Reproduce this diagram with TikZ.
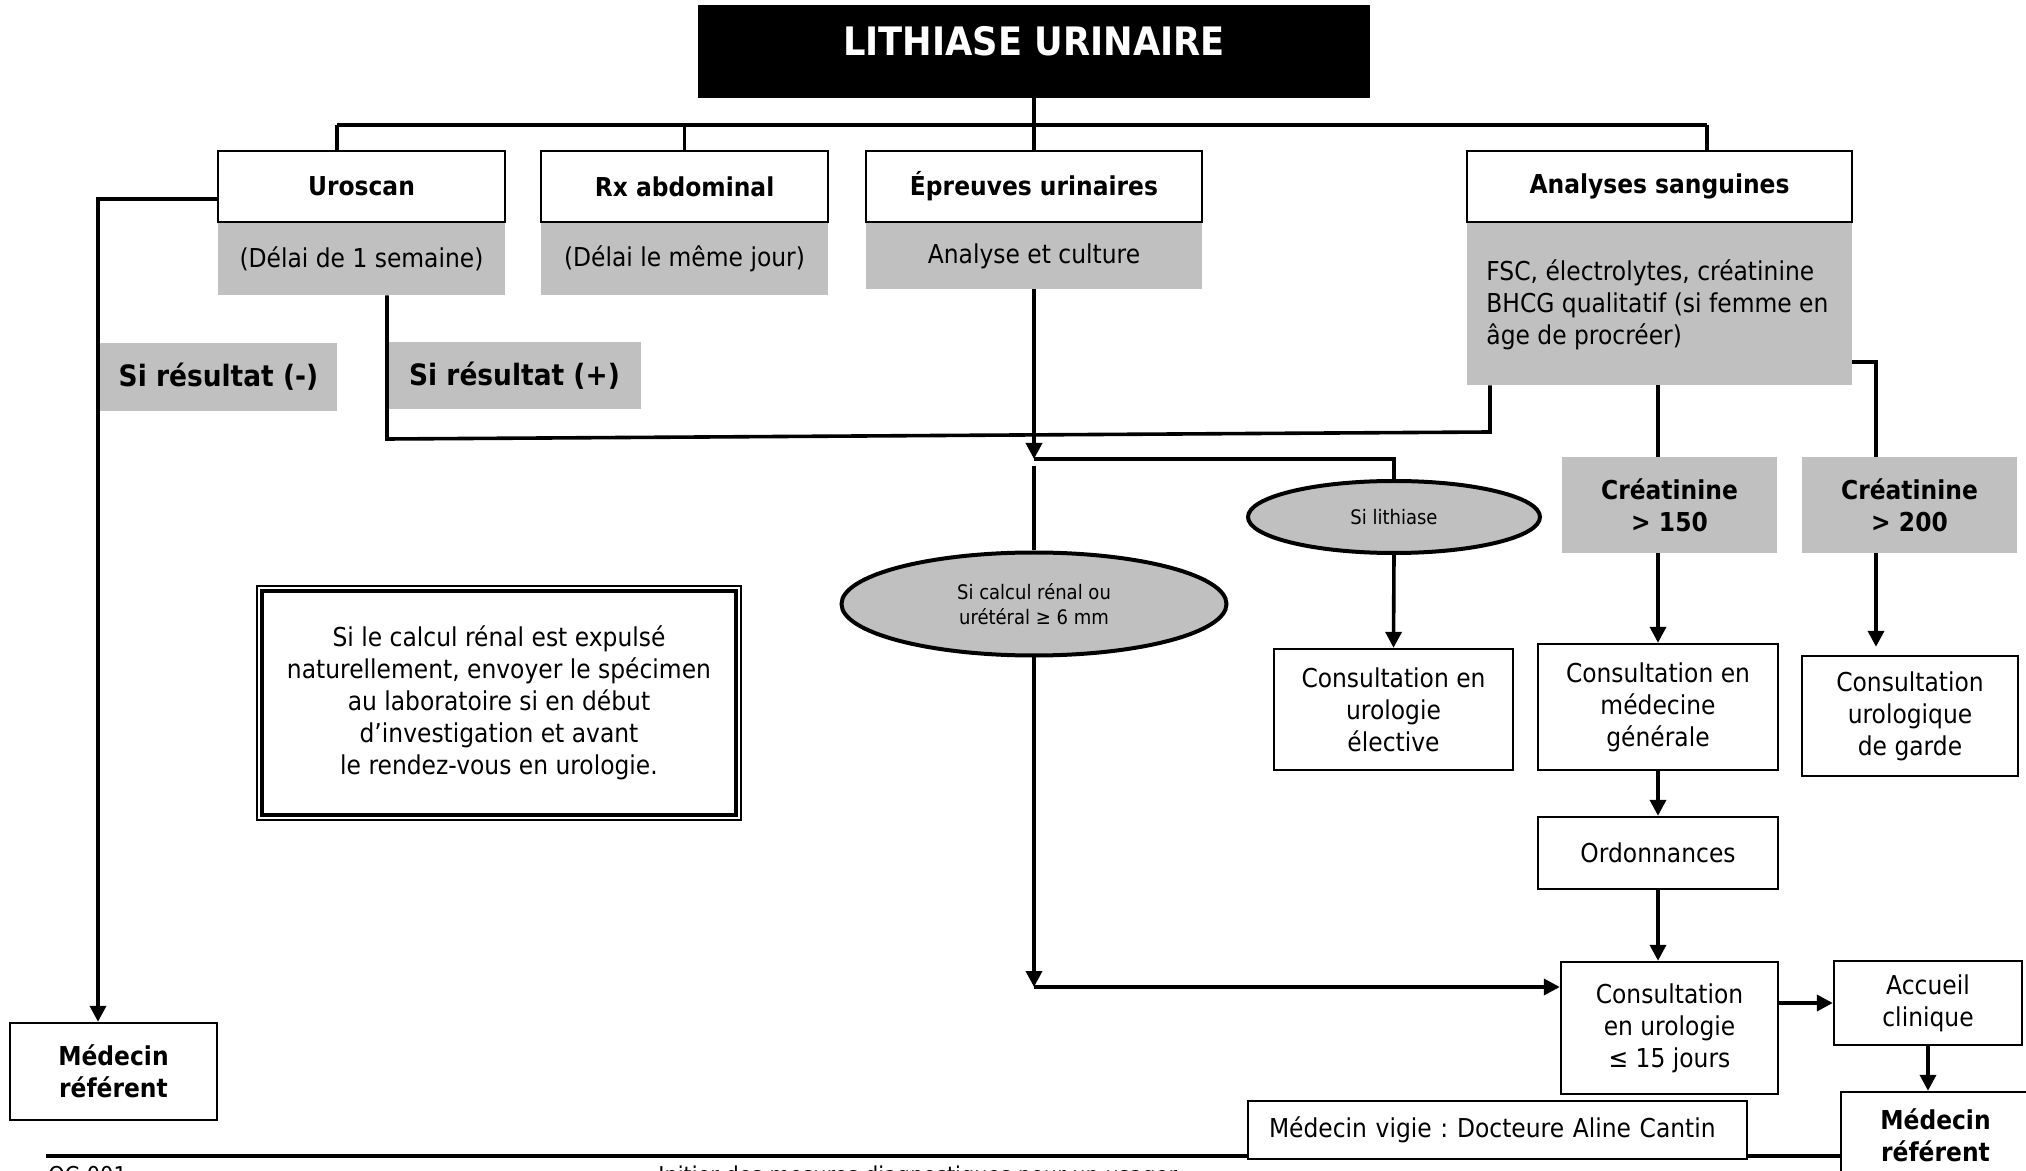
\documentclass[tikz,border=0pt]{standalone}
\usepackage{fontspec}
\setmainfont{DejaVu Sans}[FakeStretch=0.9]
\usetikzlibrary{arrows.meta,shapes.geometric,calc,backgrounds}
\definecolor{boxgrey}{RGB}{192,192,192}

\begin{document}
\frenchspacing
\begin{tikzpicture}[x=0.5pt,y=-0.5pt,
  txt/.style={font=\fontsize{13pt}{16pt}\selectfont},
  txtb/.style={font=\fontsize{13pt}{16pt}\selectfont\bfseries},
  wh/.style 2 args={minimum width=#1pt,minimum height=#2pt},
  framed/.style={draw,line width=1.2pt,fill=white,inner sep=0pt,align=center,txt},
  hdrbox/.style={framed,txtb},
  greybox/.style={fill=boxgrey,inner sep=0pt,align=center,txt},
  condbox/.style={fill=boxgrey,inner sep=0pt,align=center,txtb},
  condbig/.style={fill=boxgrey,inner sep=0pt,align=center,font=\fontsize{14.7pt}{17pt}\selectfont\bfseries},
  oval/.style={ellipse,draw,line width=2pt,fill=boxgrey,inner sep=0pt,align=center,font=\fontsize{10pt}{12.5pt}\selectfont},
  conn/.style={line width=1.8pt},
  arr/.style={conn,-{Triangle[length=8pt,width=8pt]}},
  foot/.style={anchor=base west,inner sep=0pt,font=\fontsize{11.6pt}{13pt}\selectfont},
]

% page
\begin{pgfonlayer}{background}
  \fill[white] (0,0) rectangle (2026,1171);
\end{pgfonlayer}
\path[use as bounding box] (0,0) rectangle (2026,1171);

% title
\node[fill=black, wh={336}{46.5}, inner sep=0pt] (title) at (1034,51.5) {};
\node[text=white, font=\fontsize{19.6pt}{22pt}\selectfont\bfseries, inner sep=0pt] (titletxt) at (1034,41) {LITHIASE URINAIRE};

% examinations
\node[greybox, wh={143.5}{36.5}] (uroG) at (361.5,258.5) {(Délai de 1 semaine)};
\node[hdrbox, wh={143.5}{35.5}] (uroH) at (361.5,186.5) {Uroscan};
\node[greybox, wh={143.5}{36.5}] (rxG) at (684.5,258.5) {(Délai le même jour)};
\node[hdrbox, wh={143.5}{35.5}] (rxH) at (684.5,186.5) {Rx abdominal};
\node[greybox, wh={168}{33}] (epG) at (1034,256) {Analyse et culture};
\node[hdrbox, wh={168}{35.5}] (epH) at (1034,186.5) {Épreuves urinaires};
\node[greybox, wh={192.5}{81.5}] (anG) at (1659.5,303.5) {};
\node[hdrbox, wh={192.5}{35.5}] (anH) at (1659.5,186.5) {Analyses sanguines};
\node[txt, align=left, anchor=west, inner sep=0pt] (anT) at (1486,305)
  {FSC, électrolytes, créatinine\\BHCG qualitatif (si femme en\\âge de procréer)};

% conditions
\node[condbig, wh={118.5}{34}] (neg) at (218.5,377) {Si résultat (-)};
\node[condbig, wh={126.5}{33.5}] (pos) at (514.5,375.5) {Si résultat (+)};
\node[oval, wh={146}{36}] (lith) at (1394,517) {Si lithiase};
\node[oval, wh={192.5}{51.5}] (calc) at (1034,604) {Si calcul rénal ou\\urétéral ≥ 6 mm};
\node[condbox, wh={107.5}{48}] (cr150) at (1669.5,505) {Créatinine\\> 150};
\node[condbox, wh={107.5}{48}] (cr200) at (1909.5,505) {Créatinine\\> 200};

% outcomes
\node[framed, wh={119.5}{60.5}] (elect) at (1393.5,709.5) {Consultation en\\urologie\\élective};
\node[framed, wh={120}{63}] (gen) at (1658,707) {Consultation en\\médecine\\générale};
\node[framed, wh={108}{60}] (garde) at (1910,716) {Consultation\\urologique\\de garde};
\node[framed, wh={120}{36}] (ordo) at (1658,853) {Ordonnances};
\node[framed, wh={108.5}{66}] (uro15) at (1669.5,1028) {Consultation\\en urologie\\≤ 15 jours};
\node[framed, wh={94}{42}] (acc) at (1928,1003) {Accueil\\clinique};
\node[framed, txtb, wh={94.5}{43}] (medR) at (1935.5,1135) {Médecin\\référent};
\node[framed, txtb, wh={103.5}{48.5}] (medL) at (113.5,1071.5) {Médecin\\référent};
\node[framed, align=left, text width=228.5pt, inner xsep=10.5pt, minimum height=29pt] (vigie)
  at (1497.5,1130) {Médecin vigie : Docteure Aline Cantin};

% note
\node[draw, line width=2pt, fill=white, txt, align=center, inner sep=0pt, wh={237}{112}] (note) at (499,703)
  {Si le calcul rénal est expulsé\\naturellement, envoyer le spécimen\\au laboratoire si en début\\d’investigation et avant\\le rendez-vous en urologie.};
\draw[line width=0.9pt] ($(note.south west)+(-3,3)$) rectangle ($(note.north east)+(3,-3)$);

% junction points
\coordinate (barL) at (337,125);
\coordinate (barR) at (1707,125);
\coordinate (negX) at (98,199);
\coordinate (jL) at (387,439);
\coordinate (jR) at (1490,432);
\coordinate (tip1) at (1034,459);
\coordinate (resume) at (1034,466);
\coordinate (tip2) at (1034,987);
\coordinate (k200) at (1876,362);

% connectors
\draw[conn] (title.south) -- (title.south |- barL);
\draw[conn] (barL) -- (barR);
\draw[conn] (barL) -- (uroH.north -| barL);
\draw[conn] (rxH.north |- barL) -- (rxH.north);
\draw[conn] (epH.north |- barL) -- (epH.north);
\draw[conn] (barR) -- (anH.north -| barR);

\draw[arr] (uroH.west |- negX) -- (negX) -- (negX |- medL.north);
\draw[conn] (uroG.south -| jL) -- (jL) -- (jR) -- (anG.south -| jR);

\draw[arr] (epG.south) -- (tip1);
\draw[conn] (tip1) -| (lith.north);
\draw[conn] (resume) -- (calc.north);
\draw[arr] (calc.south) -- (tip2);
\draw[arr] (tip2) -- (uro15.west |- tip2);
\draw[arr] (lith.south) -- (elect.north);

\draw[conn] (anG.south -| gen.north) -- (cr150.north -| gen.north);
\draw[conn] (anG.east |- k200) -- (k200) -- (k200 |- cr200.north);
\draw[arr] (cr150.south -| gen.north) -- (gen.north);
\draw[arr, shorten >=4pt] (cr200.south -| k200) -- (k200 |- garde.north);
\draw[arr] (gen.south) -- (ordo.north);
\draw[arr] (ordo.south) -- (uro15.north -| ordo.south);
\draw[arr] (uro15.east |- acc.center) -- (acc.west);
\draw[arr] (acc.south) -- (medR.north -| acc.south);

% page footer
\coordinate (footL) at (46,1156);
\begin{pgfonlayer}{background}
  \draw[line width=1.6pt] (footL) -- (footL -| medR.west);
\end{pgfonlayer}
\node[foot] (code) at (48,1183) {QC-001};
\node[foot] (footer) at (658,1183) {Initier des mesures diagnostiques pour un usager};

\end{tikzpicture}
\end{document}
